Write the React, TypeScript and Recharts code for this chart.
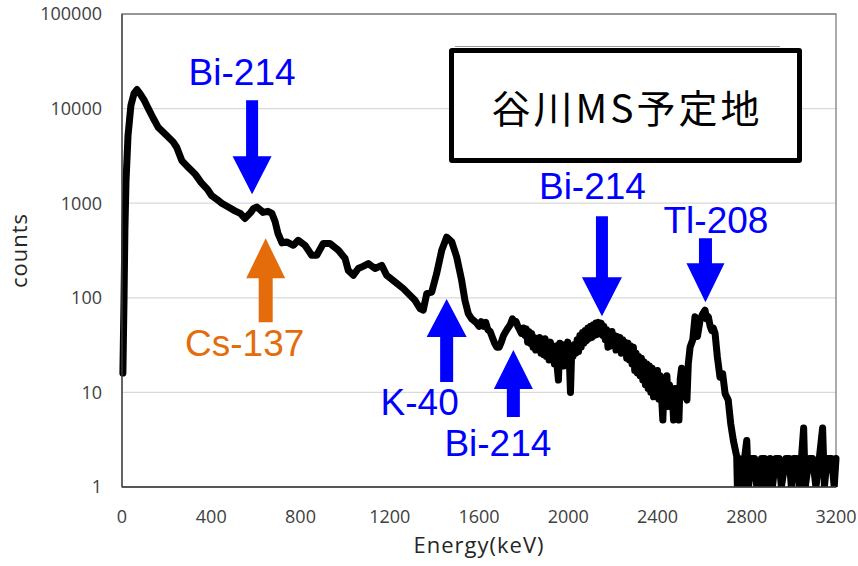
import { LineChart, Line, XAxis, YAxis, CartesianGrid, ReferenceArea, ReferenceDot, Label } from "recharts";

// spectrum, piece by piece (keV, counts)
const lowKeV = [4, 9, 13, 18, 27, 40, 54, 67, 80, 100, 118, 140, 163, 200, 229, 245, 268, 300, 327, 355, 385, 402, 425, 447, 484, 506, 530, 551, 575, 590, 605, 620, 632, 654, 672, 686, 699, 717];
const lowCounts = [16, 94, 520, 1700, 5200, 10800, 14500, 15900, 14500, 12200, 10000, 7900, 6300, 5200, 4450, 3900, 2820, 2350, 2040, 1650, 1380, 1200, 1100, 1000, 890, 830, 780, 690, 790, 880, 910, 850, 800, 820, 780, 640, 480, 380];

const midKeV = [738, 768, 790, 820, 850, 873, 902, 932, 970, 1000, 1014, 1037, 1059, 1080, 1104, 1134, 1164, 1186, 1224, 1261, 1291, 1313, 1336, 1350, 1366, 1388, 1410, 1433, 1455, 1478, 1500, 1522, 1537, 1552, 1567];
const midCounts = [390, 359, 405, 359, 282, 282, 375, 375, 318, 260, 195, 173, 204, 215, 230, 204, 220, 173, 147, 125, 106, 94, 77, 74, 111, 115, 180, 318, 437, 390, 270, 154, 94, 68, 60];

const bandKeV = [1590, 1600, 1610, 1620, 1630, 1640, 1650, 1660, 1670, 1680, 1690, 1700, 1710, 1720, 1730, 1740, 1750, 1758, 1766, 1774, 1782, 1790, 1796];
const bandCounts = [54, 50, 56, 50, 55, 46, 44, 38, 33, 30, 30, 34, 40, 44, 48, 52, 60, 55, 56, 50, 46, 42, 48];

// the noisy stretch, read as the top and bottom of the black band
const noiseKeV = [
  1800, 1806, 1812, 1818, 1824, 1830, 1836, 1842, 1848, 1854,
  1860, 1866, 1872, 1878, 1884, 1890, 1896, 1902, 1908, 1914,
  1920, 1926, 1932, 1938, 1944, 1950, 1956, 1962, 1968, 1974,
  1980, 1986, 1992, 1998, 2004, 2010, 2016, 2022, 2028, 2034,
  2040, 2046, 2052, 2058, 2064, 2070, 2076, 2082, 2088, 2094,
  2100, 2106, 2112, 2118, 2124, 2130, 2136, 2142, 2148, 2154,
  2160, 2166, 2172, 2178, 2184, 2190, 2196, 2202, 2208, 2214,
  2220, 2226, 2232, 2238, 2244, 2250, 2256, 2262, 2268, 2274,
  2280, 2286, 2292, 2298, 2304, 2310, 2316, 2322, 2328, 2334,
  2340, 2346, 2352, 2358, 2364, 2370, 2376, 2382, 2388, 2394,
  2400, 2406, 2412, 2418, 2424, 2430, 2436, 2442, 2448, 2454,
  2460, 2466, 2472, 2478, 2484, 2490, 2496, 2502, 2508, 2514,
  2520, 2526, 2532, 2538,
];
const noiseCounts = [
  48, 40, 47, 34, 44, 33, 42, 30, 38, 28,
  36, 30, 38, 26, 35, 25, 37, 24, 33, 22,
  34, 24, 30, 20, 31, 19, 13.5, 33, 22, 30,
  19, 32, 21, 34, 25, 10, 30, 24, 32, 26,
  36, 27, 40, 30, 43, 33, 45, 35, 48, 37,
  50, 38, 52, 40, 54, 41, 55, 43, 54, 40,
  50, 36, 46, 30, 42, 31, 44, 33, 40, 28,
  39, 30, 38, 26, 36, 27, 34, 23, 33, 22,
  31, 20, 30, 17, 26, 16, 24, 15, 23, 13.5,
  21, 12, 20, 11, 19, 10, 18, 9, 16, 10,
  17, 8.5, 15, 9, 5.1, 14, 7, 15, 8, 12,
  7, 11, 5.1, 11, 6, 10, 5.1, 14, 18, 10,
  15, 9, 8.3, 20,
];

const tlKeV = [2546, 2558, 2568, 2579, 2591, 2600, 2613, 2620, 2628, 2636, 2643, 2650, 2658, 2668, 2680, 2692, 2703, 2717, 2728, 2740, 2755];
const tlCounts = [30, 36, 63, 39, 58, 66, 74, 60, 63, 50, 45, 48, 42, 24, 14.5, 15.8, 9.7, 8.3, 4.7, 3.1, 2.1];

const tailKeV = [2758, 2765, 2780, 2790, 2800, 2808, 2822, 2835, 2845, 2858, 2866, 2880, 2890, 2905, 2915, 2930, 2945, 2955, 2975, 2990, 3000, 3010, 3025, 3035, 3045, 3055, 3062, 3080, 3095, 3110, 3125, 3140, 3148, 3160, 3180, 3192, 3200];
const tailCounts = [1, 2, 1, 2, 3.1, 1, 2, 2, 1, 1, 2, 2, 1, 2, 1, 2, 2, 1, 2, 2, 1, 2, 2, 1, 2, 4.2, 1, 2, 2, 1, 2, 4.2, 1, 2, 2, 1, 2];

const xTicks = [0, 400, 800, 1200, 1600, 2000, 2400, 2800, 3200];
const yTicks = [1, 10, 100, 1000, 10000, 100000];

// peak markers: where each arrow tip points
const peakNames = ["Bi-214", "Cs-137", "K-40", "Bi-214", "Bi-214", "Tl-208"];
const peakKeV = [583, 644, 1455, 1754, 2151, 2615];
const peakTipCounts = [1242, 425, 97, 28, 64, 90];

const BLUE = "#0000FF";
const ORANGE = "#E46C0A";

const arrowLook = [
  { dir: "down", len: 94, headLen: 38, headW: 39, shaftW: 12, dx: -10, dy: -109, color: BLUE },
  { dir: "up", len: 84, headLen: 40, headW: 39, shaftW: 14, dx: -21, dy: 118, color: ORANGE },
  { dir: "up", len: 83, headLen: 38, headW: 40, shaftW: 13, dx: -27, dy: 116, color: BLUE },
  { dir: "up", len: 67, headLen: 39, headW: 39, shaftW: 13, dx: -15.5, dy: 106, color: BLUE },
  { dir: "down", len: 100, headLen: 39, headW: 40, shaftW: 12, dx: -9.5, dy: -117, color: BLUE },
  { dir: "down", len: 64, headLen: 39, headW: 38, shaftW: 13, dx: 10.5, dy: -69, color: BLUE },
];

function zip(keV: number[], counts: number[]) {
  return keV.map((e, i) => ({ energy: e, counts: counts[i] }));
}

const spectrum = [
  ...zip(lowKeV, lowCounts),
  ...zip(midKeV, midCounts),
  ...zip(bandKeV, bandCounts),
  ...zip(noiseKeV, noiseCounts),
  ...zip(tlKeV, tlCounts),
  ...zip(tailKeV, tailCounts),
];

const tickStyle = { fontFamily: "'Open Sans', sans-serif", fontSize: 18, fill: "#404040" };
const axisTitleStyle = { fontFamily: "'Open Sans', sans-serif", fontSize: 22, fill: "#262626", letterSpacing: 1 };

function PeakArrow(props: any) {
  const { cx, cy, look, name } = props;
  const d = look.dir === "down" ? -1 : 1;
  const hb = cy + d * look.headLen;
  const tail = cy + d * look.len;
  const hw = look.headW / 2;
  const sw = look.shaftW / 2;
  const pts = [
    [cx, cy],
    [cx + hw, hb],
    [cx + sw, hb],
    [cx + sw, tail],
    [cx - sw, tail],
    [cx - sw, hb],
    [cx - hw, hb],
  ]
    .map((p) => p.join(","))
    .join(" ");
  return (
    <g>
      <polygon points={pts} fill={look.color} />
      <text
        x={cx + look.dx}
        y={cy + look.dy}
        textAnchor="middle"
        fontFamily="'Liberation Sans', Arial, sans-serif"
        fontSize={37}
        fill={look.color}
      >
        {name}
      </text>
    </g>
  );
}

export default function App() {
  return (
    <div style={{ position: "absolute", left: 0, top: 0, width: 858, height: 566, background: "#fff" }}>
      <LineChart
        width={858}
        height={566}
        data={spectrum}
        margin={{ top: 14, right: 22, left: 0, bottom: 0 }}
      >
        <CartesianGrid vertical={false} stroke="#d9d9d9" strokeWidth={1.3} />
        <XAxis
          dataKey="energy"
          type="number"
          domain={[0, 3200]}
          ticks={xTicks}
          height={79}
          tickLine={false}
          tickSize={0}
          tickMargin={23}
          axisLine={{ stroke: "#404040", strokeWidth: 1.3 }}
          tick={tickStyle}
        >
          <Label
            content={(p: any) => {
              const vb = p.viewBox;
              return (
                <text x={vb.x + vb.width / 2} y={vb.y + 66} textAnchor="middle" style={axisTitleStyle}>
                  Energy(keV)
                </text>
              );
            }}
          />
        </XAxis>
        <YAxis
          type="number"
          scale="log"
          domain={[1, 100000]}
          ticks={yTicks}
          allowDataOverflow
          width={122}
          tickLine={false}
          tickSize={0}
          tickMargin={20}
          axisLine={{ stroke: "#404040", strokeWidth: 1.3 }}
          tick={tickStyle}
        >
          <Label
            content={(p: any) => {
              const vb = p.viewBox;
              return (
                <text
                  transform={`translate(${vb.x + 18},${vb.y + vb.height / 2}) rotate(-90)`}
                  textAnchor="middle"
                  dominantBaseline="central"
                  style={axisTitleStyle}
                >
                  counts
                </text>
              );
            }}
          />
        </YAxis>
        <ReferenceArea x1={0} x2={3200} y1={1} y2={100000} fill="none" stroke="#7f7f7f" strokeWidth={1.3} />
        <Line
          dataKey="counts"
          type="linear"
          stroke="#000"
          strokeWidth={7}
          strokeLinejoin="round"
          strokeLinecap="round"
          dot={false}
          isAnimationActive={false}
        />
        {peakKeV.map((e, i) => (
          <ReferenceDot
            key={i}
            x={e}
            y={peakTipCounts[i]}
            ifOverflow="visible"
            shape={(p: any) => <PeakArrow cx={p.cx} cy={p.cy} look={arrowLook[i]} name={peakNames[i]} />}
          />
        ))}
      </LineChart>
      <div
        style={{
          position: "absolute",
          left: 455,
          top: 46,
          width: 325,
          height: 0,
          borderTop: "1.5px solid #9a9a9a",
        }}
      />
      <div
        style={{
          position: "absolute",
          left: 449,
          top: 48,
          width: 353,
          height: 115,
          boxSizing: "border-box",
          border: "5px solid #000",
          borderRadius: 3,
          background: "#fff",
          display: "flex",
          alignItems: "center",
          justifyContent: "center",
          fontFamily: "'Noto Sans CJK JP', sans-serif",
          fontSize: 39,
          letterSpacing: 3,
          color: "#000",
        }}
      >
        <span style={{ marginRight: -3 }}>谷川MS予定地</span>
      </div>
    </div>
  );
}
